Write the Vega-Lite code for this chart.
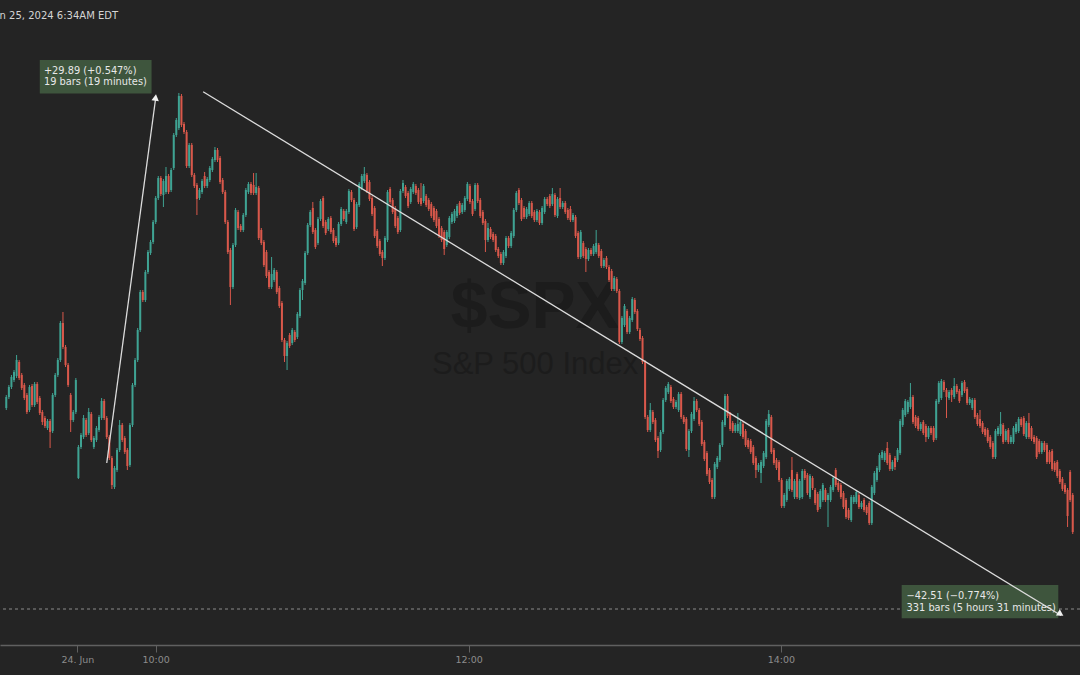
{
"$schema":"https://vega.github.io/schema/vega-lite/v6.json",
"width":1080,"height":645,
"autosize":{"type":"none"},
"padding":{"left":0,"top":0,"right":0,"bottom":30},
"background":"#242424",
"config":{"view":{"stroke":null},"font":"DejaVu Sans",
 "axisX":{"labelExpr":"datum.value < 40 ? '24. Jun' : datum.value < 100 ? '10:00' : datum.value < 250 ? '12:00' : '14:00'","title":null,"grid":false,"domainColor":"#606060","domainWidth":1.5,"tickColor":"#606060","tickSize":7,"labelColor":"#8c8c8c","labelFontSize":9.5,"labelFont":"DejaVu Sans","labelPadding":2,"labelFlush":false,"labelOverlap":false}},
"datasets":{"bars":[
{"i":0,"o":5465.36,"h":5466.4,"l":5465.2,"c":5466.24},
{"i":1,"o":5466.24,"h":5467.2,"l":5466.08,"c":5467.04},
{"i":2,"o":5467.04,"h":5468.0,"l":5466.88,"c":5467.84},
{"i":3,"o":5467.6,"h":5468.4,"l":5467.44,"c":5468.24},
{"i":4,"o":5467.92,"h":5469.6,"l":5467.76,"c":5469.2},
{"i":5,"o":5469.04,"h":5469.2,"l":5467.6,"c":5467.76},
{"i":6,"o":5468.0,"h":5468.16,"l":5466.8,"c":5466.96},
{"i":7,"o":5467.2,"h":5467.36,"l":5466.0,"c":5466.16},
{"i":8,"o":5466.4,"h":5466.56,"l":5464.88,"c":5465.04},
{"i":9,"o":5465.2,"h":5467.2,"l":5465.04,"c":5467.04},
{"i":10,"o":5467.12,"h":5467.28,"l":5465.44,"c":5465.6},
{"i":11,"o":5465.6,"h":5467.44,"l":5465.44,"c":5467.28},
{"i":12,"o":5467.28,"h":5467.44,"l":5465.68,"c":5465.84},
{"i":13,"o":5466.16,"h":5466.32,"l":5464.8,"c":5464.96},
{"i":14,"o":5465.04,"h":5465.2,"l":5464.0,"c":5464.24},
{"i":15,"o":5464.56,"h":5464.72,"l":5463.76,"c":5463.92},
{"i":16,"o":5463.76,"h":5464.48,"l":5463.6,"c":5464.32},
{"i":17,"o":5464.32,"h":5464.48,"l":5462.16,"c":5463.44},
{"i":18,"o":5463.52,"h":5466.56,"l":5463.36,"c":5466.4},
{"i":19,"o":5466.4,"h":5468.16,"l":5466.24,"c":5468.0},
{"i":20,"o":5468.0,"h":5469.36,"l":5467.84,"c":5469.2},
{"i":21,"o":5469.2,"h":5472.32,"l":5469.04,"c":5472.16},
{"i":22,"o":5472.16,"h":5473.04,"l":5470.08,"c":5470.24},
{"i":23,"o":5470.24,"h":5470.4,"l":5468.64,"c":5468.8},
{"i":24,"o":5468.8,"h":5468.96,"l":5467.04,"c":5467.2},
{"i":25,"o":5466.4,"h":5466.56,"l":5463.44,"c":5464.4},
{"i":26,"o":5464.4,"h":5465.2,"l":5464.24,"c":5465.04},
{"i":27,"o":5465.04,"h":5467.76,"l":5464.88,"c":5467.6},
{"i":28,"o":5459.76,"h":5462.4,"l":5459.68,"c":5462.24},
{"i":29,"o":5462.24,"h":5463.36,"l":5462.08,"c":5463.2},
{"i":30,"o":5463.04,"h":5464.8,"l":5462.88,"c":5464.56},
{"i":31,"o":5464.4,"h":5464.56,"l":5463.04,"c":5463.2},
{"i":32,"o":5463.36,"h":5465.36,"l":5463.2,"c":5465.04},
{"i":33,"o":5464.88,"h":5465.04,"l":5462.64,"c":5462.8},
{"i":34,"o":5462.24,"h":5463.12,"l":5462.08,"c":5462.96},
{"i":35,"o":5462.8,"h":5463.92,"l":5462.64,"c":5463.76},
{"i":36,"o":5463.6,"h":5464.8,"l":5463.44,"c":5464.64},
{"i":37,"o":5464.56,"h":5466.16,"l":5464.4,"c":5465.92},
{"i":38,"o":5465.92,"h":5466.08,"l":5464.4,"c":5464.56},
{"i":39,"o":5464.56,"h":5464.72,"l":5462.88,"c":5463.04},
{"i":40,"o":5463.04,"h":5463.2,"l":5461.2,"c":5461.36},
{"i":41,"o":5461.36,"h":5461.52,"l":5458.88,"c":5459.2},
{"i":42,"o":5459.04,"h":5460.72,"l":5458.88,"c":5460.56},
{"i":43,"o":5460.4,"h":5462.16,"l":5460.24,"c":5462.0},
{"i":44,"o":5462.0,"h":5464.4,"l":5461.84,"c":5464.0},
{"i":45,"o":5464.0,"h":5464.16,"l":5462.64,"c":5462.8},
{"i":46,"o":5462.96,"h":5463.12,"l":5461.68,"c":5461.84},
{"i":47,"o":5462.0,"h":5462.16,"l":5460.4,"c":5460.72},
{"i":48,"o":5460.8,"h":5464.16,"l":5460.64,"c":5464.0},
{"i":49,"o":5464.0,"h":5467.36,"l":5463.84,"c":5467.2},
{"i":50,"o":5467.2,"h":5469.36,"l":5467.04,"c":5469.2},
{"i":51,"o":5469.2,"h":5471.76,"l":5469.04,"c":5471.6},
{"i":52,"o":5471.6,"h":5474.8,"l":5471.44,"c":5474.64},
{"i":53,"o":5474.64,"h":5474.8,"l":5473.84,"c":5474.0},
{"i":54,"o":5474.0,"h":5476.4,"l":5473.84,"c":5476.24},
{"i":55,"o":5476.24,"h":5478.0,"l":5476.08,"c":5477.84},
{"i":56,"o":5477.76,"h":5478.8,"l":5477.6,"c":5478.64},
{"i":57,"o":5478.64,"h":5480.4,"l":5478.48,"c":5480.24},
{"i":58,"o":5480.24,"h":5482.32,"l":5480.08,"c":5482.16},
{"i":59,"o":5482.16,"h":5483.92,"l":5482.0,"c":5483.76},
{"i":60,"o":5483.76,"h":5483.92,"l":5482.32,"c":5482.48},
{"i":61,"o":5482.4,"h":5483.68,"l":5481.44,"c":5483.52},
{"i":62,"o":5482.64,"h":5484.64,"l":5482.48,"c":5483.92},
{"i":63,"o":5483.92,"h":5484.08,"l":5482.48,"c":5482.64},
{"i":64,"o":5482.8,"h":5484.56,"l":5482.64,"c":5484.4},
{"i":65,"o":5484.56,"h":5487.36,"l":5484.4,"c":5487.2},
{"i":66,"o":5487.2,"h":5488.56,"l":5487.04,"c":5488.4},
{"i":67,"o":5487.76,"h":5490.56,"l":5487.6,"c":5490.32},
{"i":68,"o":5490.32,"h":5490.48,"l":5487.84,"c":5488.0},
{"i":69,"o":5488.08,"h":5488.24,"l":5487.28,"c":5487.44},
{"i":70,"o":5487.44,"h":5487.6,"l":5484.56,"c":5484.72},
{"i":71,"o":5484.72,"h":5486.56,"l":5484.56,"c":5486.4},
{"i":72,"o":5486.4,"h":5486.56,"l":5483.84,"c":5484.0},
{"i":73,"o":5484.0,"h":5484.16,"l":5482.96,"c":5483.12},
{"i":74,"o":5483.2,"h":5483.36,"l":5480.8,"c":5482.08},
{"i":75,"o":5482.16,"h":5482.96,"l":5482.0,"c":5482.8},
{"i":76,"o":5482.64,"h":5483.68,"l":5482.48,"c":5483.52},
{"i":77,"o":5483.92,"h":5484.24,"l":5482.96,"c":5483.12},
{"i":78,"o":5483.12,"h":5483.84,"l":5482.96,"c":5483.68},
{"i":79,"o":5483.6,"h":5484.72,"l":5483.44,"c":5484.56},
{"i":80,"o":5484.4,"h":5485.44,"l":5484.24,"c":5485.28},
{"i":81,"o":5485.2,"h":5486.24,"l":5485.04,"c":5486.0},
{"i":82,"o":5486.0,"h":5486.16,"l":5485.04,"c":5485.2},
{"i":83,"o":5485.36,"h":5485.52,"l":5483.28,"c":5483.44},
{"i":84,"o":5483.6,"h":5483.76,"l":5482.48,"c":5482.64},
{"i":85,"o":5482.64,"h":5482.8,"l":5480.08,"c":5480.24},
{"i":86,"o":5480.24,"h":5480.4,"l":5477.68,"c":5477.84},
{"i":87,"o":5478.0,"h":5478.16,"l":5473.6,"c":5475.04},
{"i":88,"o":5475.04,"h":5478.56,"l":5474.88,"c":5478.4},
{"i":89,"o":5478.4,"h":5481.36,"l":5478.24,"c":5481.2},
{"i":90,"o":5481.04,"h":5481.2,"l":5479.6,"c":5479.76},
{"i":91,"o":5479.92,"h":5480.08,"l":5479.44,"c":5479.6},
{"i":92,"o":5479.6,"h":5480.96,"l":5479.44,"c":5480.8},
{"i":93,"o":5480.8,"h":5482.96,"l":5480.64,"c":5482.8},
{"i":94,"o":5482.64,"h":5483.44,"l":5482.48,"c":5483.28},
{"i":95,"o":5483.28,"h":5483.44,"l":5482.4,"c":5482.56},
{"i":96,"o":5483.2,"h":5484.16,"l":5482.4,"c":5482.56},
{"i":97,"o":5482.56,"h":5484.16,"l":5482.4,"c":5483.04},
{"i":98,"o":5482.96,"h":5483.12,"l":5478.8,"c":5478.96},
{"i":99,"o":5479.6,"h":5479.76,"l":5478.4,"c":5478.56},
{"i":100,"o":5478.64,"h":5478.8,"l":5476.64,"c":5476.8},
{"i":101,"o":5477.84,"h":5478.0,"l":5475.76,"c":5475.92},
{"i":102,"o":5476.24,"h":5476.4,"l":5474.88,"c":5475.04},
{"i":103,"o":5475.04,"h":5477.44,"l":5474.88,"c":5476.08},
{"i":104,"o":5475.6,"h":5476.56,"l":5475.44,"c":5476.4},
{"i":105,"o":5476.24,"h":5476.4,"l":5474.48,"c":5474.64},
{"i":106,"o":5474.96,"h":5475.12,"l":5473.36,"c":5473.52},
{"i":107,"o":5473.76,"h":5473.92,"l":5470.64,"c":5470.8},
{"i":108,"o":5470.8,"h":5470.96,"l":5469.04,"c":5469.52},
{"i":109,"o":5469.52,"h":5470.72,"l":5468.4,"c":5470.56},
{"i":110,"o":5471.2,"h":5471.36,"l":5470.16,"c":5470.32},
{"i":111,"o":5470.56,"h":5471.76,"l":5470.4,"c":5471.6},
{"i":112,"o":5471.44,"h":5471.6,"l":5470.64,"c":5470.8},
{"i":113,"o":5471.04,"h":5473.04,"l":5470.88,"c":5472.88},
{"i":114,"o":5472.72,"h":5474.96,"l":5472.56,"c":5474.8},
{"i":115,"o":5474.8,"h":5475.68,"l":5474.0,"c":5475.52},
{"i":116,"o":5475.36,"h":5477.92,"l":5475.2,"c":5477.76},
{"i":117,"o":5477.76,"h":5480.16,"l":5477.6,"c":5480.0},
{"i":118,"o":5480.0,"h":5481.2,"l":5479.84,"c":5481.04},
{"i":119,"o":5481.36,"h":5481.84,"l":5479.28,"c":5479.44},
{"i":120,"o":5479.6,"h":5479.76,"l":5478.08,"c":5478.24},
{"i":121,"o":5478.56,"h":5480.64,"l":5478.4,"c":5480.48},
{"i":122,"o":5480.48,"h":5482.08,"l":5480.32,"c":5481.92},
{"i":123,"o":5482.16,"h":5482.32,"l":5479.76,"c":5479.92},
{"i":124,"o":5480.24,"h":5480.4,"l":5479.2,"c":5479.36},
{"i":125,"o":5479.68,"h":5480.64,"l":5479.52,"c":5480.48},
{"i":126,"o":5480.56,"h":5480.72,"l":5479.28,"c":5479.44},
{"i":127,"o":5479.6,"h":5479.76,"l":5478.56,"c":5478.72},
{"i":128,"o":5478.96,"h":5479.12,"l":5478.24,"c":5478.4},
{"i":129,"o":5478.56,"h":5480.24,"l":5478.4,"c":5480.08},
{"i":130,"o":5480.08,"h":5481.44,"l":5479.92,"c":5481.28},
{"i":131,"o":5481.12,"h":5481.28,"l":5480.32,"c":5480.48},
{"i":132,"o":5480.24,"h":5481.28,"l":5480.08,"c":5481.12},
{"i":133,"o":5481.04,"h":5482.88,"l":5480.88,"c":5482.72},
{"i":134,"o":5482.64,"h":5482.8,"l":5481.84,"c":5482.0},
{"i":135,"o":5482.0,"h":5482.16,"l":5479.52,"c":5479.68},
{"i":136,"o":5479.84,"h":5481.84,"l":5479.68,"c":5481.68},
{"i":137,"o":5481.6,"h":5483.44,"l":5481.44,"c":5483.28},
{"i":138,"o":5482.96,"h":5484.08,"l":5482.8,"c":5483.92},
{"i":139,"o":5483.52,"h":5484.64,"l":5483.36,"c":5484.08},
{"i":140,"o":5484.0,"h":5484.16,"l":5482.56,"c":5482.72},
{"i":141,"o":5483.44,"h":5483.6,"l":5481.92,"c":5482.08},
{"i":142,"o":5482.16,"h":5482.32,"l":5480.72,"c":5480.88},
{"i":143,"o":5481.36,"h":5481.52,"l":5478.96,"c":5479.12},
{"i":144,"o":5479.52,"h":5479.68,"l":5478.16,"c":5478.32},
{"i":145,"o":5478.72,"h":5478.88,"l":5477.52,"c":5477.68},
{"i":146,"o":5477.84,"h":5478.0,"l":5476.72,"c":5477.36},
{"i":147,"o":5477.36,"h":5479.12,"l":5477.2,"c":5478.96},
{"i":148,"o":5478.8,"h":5482.8,"l":5478.64,"c":5482.64},
{"i":149,"o":5482.88,"h":5483.04,"l":5481.68,"c":5481.84},
{"i":150,"o":5482.0,"h":5482.16,"l":5480.88,"c":5481.04},
{"i":151,"o":5481.36,"h":5481.52,"l":5479.76,"c":5479.92},
{"i":152,"o":5480.56,"h":5480.72,"l":5479.28,"c":5479.44},
{"i":153,"o":5479.6,"h":5482.88,"l":5479.44,"c":5482.72},
{"i":154,"o":5482.72,"h":5483.6,"l":5482.56,"c":5483.36},
{"i":155,"o":5483.04,"h":5483.2,"l":5482.16,"c":5482.32},
{"i":156,"o":5482.56,"h":5482.72,"l":5481.36,"c":5481.52},
{"i":157,"o":5481.84,"h":5483.04,"l":5481.68,"c":5482.88},
{"i":158,"o":5482.64,"h":5483.44,"l":5482.48,"c":5483.28},
{"i":159,"o":5483.12,"h":5483.28,"l":5482.4,"c":5482.56},
{"i":160,"o":5482.8,"h":5482.96,"l":5481.68,"c":5481.84},
{"i":161,"o":5482.16,"h":5483.36,"l":5481.52,"c":5481.68},
{"i":162,"o":5481.92,"h":5483.28,"l":5481.76,"c":5483.12},
{"i":163,"o":5482.32,"h":5482.48,"l":5481.44,"c":5481.6},
{"i":164,"o":5482.0,"h":5482.16,"l":5481.12,"c":5481.28},
{"i":165,"o":5481.68,"h":5481.84,"l":5480.56,"c":5480.72},
{"i":166,"o":5481.36,"h":5481.52,"l":5480.24,"c":5480.4},
{"i":167,"o":5481.12,"h":5481.28,"l":5479.76,"c":5479.92},
{"i":168,"o":5480.48,"h":5480.64,"l":5478.96,"c":5479.12},
{"i":169,"o":5479.76,"h":5479.92,"l":5478.64,"c":5478.8},
{"i":170,"o":5479.44,"h":5479.6,"l":5477.6,"c":5478.08},
{"i":171,"o":5478.4,"h":5479.6,"l":5478.24,"c":5479.44},
{"i":172,"o":5479.04,"h":5480.72,"l":5478.88,"c":5480.56},
{"i":173,"o":5480.24,"h":5481.04,"l":5480.08,"c":5480.88},
{"i":174,"o":5480.32,"h":5481.28,"l":5480.16,"c":5481.12},
{"i":175,"o":5480.72,"h":5481.68,"l":5480.56,"c":5481.52},
{"i":176,"o":5481.76,"h":5481.92,"l":5480.8,"c":5480.96},
{"i":177,"o":5481.04,"h":5481.76,"l":5480.88,"c":5481.6},
{"i":178,"o":5481.2,"h":5482.32,"l":5481.04,"c":5482.16},
{"i":179,"o":5482.08,"h":5483.44,"l":5481.92,"c":5483.28},
{"i":180,"o":5483.12,"h":5483.28,"l":5481.68,"c":5481.84},
{"i":181,"o":5481.92,"h":5482.08,"l":5480.72,"c":5480.88},
{"i":182,"o":5481.28,"h":5483.36,"l":5481.12,"c":5483.2},
{"i":183,"o":5483.2,"h":5483.36,"l":5481.76,"c":5481.92},
{"i":184,"o":5482.0,"h":5482.16,"l":5480.56,"c":5480.72},
{"i":185,"o":5481.04,"h":5481.2,"l":5480.0,"c":5480.16},
{"i":186,"o":5480.32,"h":5480.48,"l":5477.84,"c":5478.8},
{"i":187,"o":5478.8,"h":5480.16,"l":5478.64,"c":5479.76},
{"i":188,"o":5479.68,"h":5479.84,"l":5478.88,"c":5479.04},
{"i":189,"o":5479.28,"h":5479.44,"l":5478.64,"c":5478.8},
{"i":190,"o":5479.12,"h":5479.28,"l":5477.84,"c":5478.0},
{"i":191,"o":5478.08,"h":5478.24,"l":5477.36,"c":5477.52},
{"i":192,"o":5477.68,"h":5477.84,"l":5476.8,"c":5476.96},
{"i":193,"o":5476.96,"h":5478.0,"l":5476.8,"c":5477.84},
{"i":194,"o":5477.52,"h":5479.12,"l":5477.36,"c":5478.96},
{"i":195,"o":5478.96,"h":5479.12,"l":5478.16,"c":5478.32},
{"i":196,"o":5478.32,"h":5479.52,"l":5478.16,"c":5479.36},
{"i":197,"o":5479.12,"h":5481.36,"l":5478.96,"c":5481.2},
{"i":198,"o":5481.2,"h":5482.72,"l":5481.04,"c":5482.56},
{"i":199,"o":5482.8,"h":5482.96,"l":5481.6,"c":5481.76},
{"i":200,"o":5482.0,"h":5482.16,"l":5480.32,"c":5480.48},
{"i":201,"o":5481.36,"h":5481.52,"l":5480.48,"c":5480.64},
{"i":202,"o":5480.64,"h":5481.44,"l":5480.48,"c":5481.28},
{"i":203,"o":5480.88,"h":5481.92,"l":5480.72,"c":5481.76},
{"i":204,"o":5481.76,"h":5481.92,"l":5480.56,"c":5480.72},
{"i":205,"o":5481.04,"h":5481.2,"l":5480.24,"c":5480.4},
{"i":206,"o":5480.4,"h":5481.28,"l":5480.24,"c":5481.12},
{"i":207,"o":5481.04,"h":5481.2,"l":5480.0,"c":5480.16},
{"i":208,"o":5480.16,"h":5481.52,"l":5480.0,"c":5481.36},
{"i":209,"o":5481.04,"h":5482.24,"l":5480.88,"c":5482.08},
{"i":210,"o":5482.08,"h":5482.24,"l":5481.52,"c":5481.68},
{"i":211,"o":5482.32,"h":5482.48,"l":5481.36,"c":5481.52},
{"i":212,"o":5481.68,"h":5482.96,"l":5481.52,"c":5482.48},
{"i":213,"o":5482.4,"h":5482.56,"l":5480.64,"c":5480.8},
{"i":214,"o":5480.72,"h":5482.24,"l":5480.56,"c":5482.08},
{"i":215,"o":5482.16,"h":5482.96,"l":5481.28,"c":5481.44},
{"i":216,"o":5481.44,"h":5481.92,"l":5481.28,"c":5481.76},
{"i":217,"o":5481.76,"h":5481.92,"l":5480.88,"c":5481.04},
{"i":218,"o":5481.2,"h":5481.36,"l":5480.4,"c":5480.56},
{"i":219,"o":5481.28,"h":5481.52,"l":5480.24,"c":5480.4},
{"i":220,"o":5480.4,"h":5480.96,"l":5480.24,"c":5480.8},
{"i":221,"o":5480.64,"h":5480.8,"l":5478.96,"c":5479.12},
{"i":222,"o":5479.36,"h":5479.52,"l":5477.28,"c":5477.44},
{"i":223,"o":5477.44,"h":5479.6,"l":5477.28,"c":5479.44},
{"i":224,"o":5478.56,"h":5478.72,"l":5477.36,"c":5477.52},
{"i":225,"o":5478.08,"h":5478.24,"l":5476.24,"c":5477.28},
{"i":226,"o":5477.28,"h":5478.16,"l":5477.12,"c":5478.0},
{"i":227,"o":5478.0,"h":5478.16,"l":5477.52,"c":5477.68},
{"i":228,"o":5477.68,"h":5478.48,"l":5477.52,"c":5478.32},
{"i":229,"o":5477.84,"h":5479.6,"l":5477.68,"c":5478.56},
{"i":230,"o":5478.4,"h":5478.56,"l":5477.36,"c":5477.52},
{"i":231,"o":5477.92,"h":5478.08,"l":5476.56,"c":5476.72},
{"i":232,"o":5476.72,"h":5477.36,"l":5476.56,"c":5477.2},
{"i":233,"o":5477.36,"h":5477.52,"l":5476.48,"c":5476.64},
{"i":234,"o":5476.64,"h":5476.8,"l":5475.44,"c":5475.6},
{"i":235,"o":5476.32,"h":5476.48,"l":5474.72,"c":5474.88},
{"i":236,"o":5474.88,"h":5475.92,"l":5474.72,"c":5475.76},
{"i":237,"o":5475.68,"h":5475.84,"l":5474.56,"c":5474.72},
{"i":238,"o":5474.72,"h":5474.88,"l":5470.48,"c":5470.64},
{"i":239,"o":5470.64,"h":5472.72,"l":5470.48,"c":5472.56},
{"i":240,"o":5472.0,"h":5473.68,"l":5471.84,"c":5473.52},
{"i":241,"o":5473.12,"h":5473.28,"l":5471.28,"c":5471.44},
{"i":242,"o":5471.44,"h":5472.72,"l":5471.28,"c":5472.56},
{"i":243,"o":5472.4,"h":5474.24,"l":5472.24,"c":5474.08},
{"i":244,"o":5474.0,"h":5474.16,"l":5472.88,"c":5473.04},
{"i":245,"o":5473.12,"h":5473.28,"l":5471.52,"c":5471.68},
{"i":246,"o":5471.6,"h":5471.76,"l":5470.72,"c":5470.88},
{"i":247,"o":5470.96,"h":5471.12,"l":5468.88,"c":5469.04},
{"i":248,"o":5469.04,"h":5469.2,"l":5464.48,"c":5464.64},
{"i":249,"o":5464.64,"h":5464.8,"l":5463.44,"c":5463.6},
{"i":250,"o":5463.6,"h":5465.76,"l":5463.44,"c":5465.2},
{"i":251,"o":5465.04,"h":5465.2,"l":5464.08,"c":5464.24},
{"i":252,"o":5464.4,"h":5464.56,"l":5462.64,"c":5462.8},
{"i":253,"o":5462.96,"h":5463.12,"l":5461.36,"c":5461.92},
{"i":254,"o":5462.0,"h":5463.6,"l":5461.84,"c":5463.44},
{"i":255,"o":5463.44,"h":5466.16,"l":5463.28,"c":5466.0},
{"i":256,"o":5466.0,"h":5467.12,"l":5465.84,"c":5466.96},
{"i":257,"o":5466.64,"h":5467.44,"l":5466.48,"c":5467.28},
{"i":258,"o":5467.04,"h":5467.2,"l":5465.76,"c":5465.92},
{"i":259,"o":5466.08,"h":5466.24,"l":5465.28,"c":5465.44},
{"i":260,"o":5465.44,"h":5466.0,"l":5465.28,"c":5465.84},
{"i":261,"o":5465.2,"h":5466.64,"l":5465.04,"c":5466.48},
{"i":262,"o":5466.48,"h":5466.64,"l":5464.48,"c":5464.64},
{"i":263,"o":5464.64,"h":5464.8,"l":5464.08,"c":5464.24},
{"i":264,"o":5464.48,"h":5464.64,"l":5461.92,"c":5462.08},
{"i":265,"o":5462.0,"h":5463.68,"l":5461.44,"c":5463.52},
{"i":266,"o":5463.52,"h":5465.04,"l":5463.36,"c":5464.88},
{"i":267,"o":5464.48,"h":5466.24,"l":5464.32,"c":5465.92},
{"i":268,"o":5465.92,"h":5466.08,"l":5465.04,"c":5465.2},
{"i":269,"o":5465.2,"h":5465.36,"l":5463.92,"c":5464.08},
{"i":270,"o":5464.24,"h":5464.4,"l":5462.32,"c":5462.48},
{"i":271,"o":5462.64,"h":5462.8,"l":5461.12,"c":5461.28},
{"i":272,"o":5461.76,"h":5461.92,"l":5459.92,"c":5460.08},
{"i":273,"o":5460.4,"h":5460.56,"l":5459.28,"c":5459.44},
{"i":274,"o":5459.6,"h":5459.76,"l":5458.08,"c":5458.24},
{"i":275,"o":5458.24,"h":5461.04,"l":5458.08,"c":5460.88},
{"i":276,"o":5460.64,"h":5461.52,"l":5460.48,"c":5461.36},
{"i":277,"o":5461.2,"h":5462.56,"l":5461.04,"c":5462.4},
{"i":278,"o":5462.4,"h":5464.4,"l":5462.24,"c":5464.24},
{"i":279,"o":5464.0,"h":5466.48,"l":5463.84,"c":5466.32},
{"i":280,"o":5466.32,"h":5466.48,"l":5464.56,"c":5464.72},
{"i":281,"o":5464.88,"h":5465.04,"l":5463.52,"c":5463.68},
{"i":282,"o":5464.16,"h":5464.32,"l":5463.36,"c":5463.52},
{"i":283,"o":5463.52,"h":5464.16,"l":5463.36,"c":5464.0},
{"i":284,"o":5463.52,"h":5464.96,"l":5463.36,"c":5464.08},
{"i":285,"o":5463.28,"h":5464.4,"l":5463.12,"c":5464.24},
{"i":286,"o":5464.08,"h":5464.24,"l":5462.88,"c":5463.04},
{"i":287,"o":5463.52,"h":5463.68,"l":5462.24,"c":5462.4},
{"i":288,"o":5462.8,"h":5462.96,"l":5462.08,"c":5462.24},
{"i":289,"o":5462.72,"h":5462.88,"l":5461.68,"c":5461.84},
{"i":290,"o":5462.24,"h":5462.4,"l":5460.8,"c":5460.96},
{"i":291,"o":5461.36,"h":5461.52,"l":5459.76,"c":5460.4},
{"i":292,"o":5460.4,"h":5460.96,"l":5460.24,"c":5460.8},
{"i":293,"o":5460.16,"h":5461.2,"l":5459.36,"c":5461.04},
{"i":294,"o":5460.72,"h":5461.92,"l":5460.56,"c":5461.76},
{"i":295,"o":5461.44,"h":5464.48,"l":5461.28,"c":5464.32},
{"i":296,"o":5464.0,"h":5465.2,"l":5463.84,"c":5464.88},
{"i":297,"o":5464.64,"h":5464.8,"l":5461.68,"c":5461.84},
{"i":298,"o":5462.0,"h":5462.16,"l":5460.8,"c":5460.96},
{"i":299,"o":5461.2,"h":5461.36,"l":5460.4,"c":5460.56},
{"i":300,"o":5461.04,"h":5461.2,"l":5459.44,"c":5459.6},
{"i":301,"o":5459.6,"h":5459.76,"l":5457.36,"c":5457.52},
{"i":302,"o":5457.52,"h":5458.56,"l":5457.36,"c":5458.4},
{"i":303,"o":5458.0,"h":5459.68,"l":5457.84,"c":5459.52},
{"i":304,"o":5458.88,"h":5459.84,"l":5458.72,"c":5459.68},
{"i":305,"o":5460.4,"h":5461.44,"l":5458.64,"c":5458.8},
{"i":306,"o":5458.24,"h":5459.68,"l":5458.08,"c":5459.52},
{"i":307,"o":5460.08,"h":5460.24,"l":5458.08,"c":5458.24},
{"i":308,"o":5458.16,"h":5459.68,"l":5458.0,"c":5459.52},
{"i":309,"o":5458.24,"h":5460.48,"l":5458.08,"c":5460.32},
{"i":310,"o":5460.32,"h":5460.48,"l":5459.6,"c":5459.76},
{"i":311,"o":5460.0,"h":5460.16,"l":5458.4,"c":5458.56},
{"i":312,"o":5458.24,"h":5460.08,"l":5458.08,"c":5459.92},
{"i":313,"o":5459.76,"h":5459.92,"l":5458.8,"c":5458.96},
{"i":314,"o":5458.8,"h":5458.96,"l":5457.6,"c":5457.76},
{"i":315,"o":5458.48,"h":5458.64,"l":5457.04,"c":5457.2},
{"i":316,"o":5457.44,"h":5458.88,"l":5457.28,"c":5458.72},
{"i":317,"o":5458.0,"h":5459.36,"l":5457.84,"c":5459.2},
{"i":318,"o":5458.8,"h":5458.96,"l":5457.84,"c":5458.0},
{"i":319,"o":5458.0,"h":5458.56,"l":5455.84,"c":5458.4},
{"i":320,"o":5458.0,"h":5459.2,"l":5457.84,"c":5459.04},
{"i":321,"o":5458.8,"h":5459.92,"l":5458.64,"c":5459.76},
{"i":322,"o":5460.4,"h":5460.56,"l":5459.04,"c":5459.2},
{"i":323,"o":5459.36,"h":5459.52,"l":5458.64,"c":5458.8},
{"i":324,"o":5459.2,"h":5459.36,"l":5458.08,"c":5458.24},
{"i":325,"o":5458.56,"h":5458.72,"l":5457.28,"c":5457.44},
{"i":326,"o":5458.0,"h":5458.16,"l":5456.48,"c":5456.64},
{"i":327,"o":5457.2,"h":5457.36,"l":5456.4,"c":5456.56},
{"i":328,"o":5456.4,"h":5458.4,"l":5456.24,"c":5458.24},
{"i":329,"o":5457.84,"h":5458.4,"l":5457.68,"c":5458.24},
{"i":330,"o":5457.84,"h":5458.8,"l":5457.68,"c":5458.64},
{"i":331,"o":5458.4,"h":5458.56,"l":5457.28,"c":5457.44},
{"i":332,"o":5457.44,"h":5457.92,"l":5457.28,"c":5457.76},
{"i":333,"o":5458.0,"h":5458.16,"l":5457.04,"c":5457.2},
{"i":334,"o":5457.44,"h":5457.6,"l":5456.8,"c":5456.96},
{"i":335,"o":5457.76,"h":5457.92,"l":5456.0,"c":5456.16},
{"i":336,"o":5456.16,"h":5459.2,"l":5456.0,"c":5459.04},
{"i":337,"o":5458.56,"h":5460.32,"l":5458.4,"c":5460.16},
{"i":338,"o":5459.6,"h":5460.72,"l":5459.44,"c":5460.56},
{"i":339,"o":5460.4,"h":5461.76,"l":5460.24,"c":5461.6},
{"i":340,"o":5461.36,"h":5462.0,"l":5461.2,"c":5461.84},
{"i":341,"o":5461.2,"h":5461.92,"l":5461.04,"c":5461.76},
{"i":342,"o":5462.16,"h":5462.64,"l":5460.8,"c":5460.96},
{"i":343,"o":5461.6,"h":5461.76,"l":5460.32,"c":5460.48},
{"i":344,"o":5460.48,"h":5461.2,"l":5460.32,"c":5461.04},
{"i":345,"o":5461.36,"h":5461.52,"l":5460.4,"c":5460.64},
{"i":346,"o":5461.2,"h":5462.16,"l":5461.04,"c":5462.0},
{"i":347,"o":5461.76,"h":5464.48,"l":5461.6,"c":5464.32},
{"i":348,"o":5464.0,"h":5465.36,"l":5463.84,"c":5465.2},
{"i":349,"o":5464.8,"h":5466.08,"l":5464.64,"c":5465.92},
{"i":350,"o":5465.04,"h":5466.0,"l":5464.88,"c":5465.84},
{"i":351,"o":5465.44,"h":5467.36,"l":5465.28,"c":5466.24},
{"i":352,"o":5466.24,"h":5466.4,"l":5464.08,"c":5464.24},
{"i":353,"o":5464.64,"h":5464.8,"l":5463.76,"c":5463.92},
{"i":354,"o":5464.56,"h":5464.72,"l":5463.52,"c":5463.68},
{"i":355,"o":5463.68,"h":5464.24,"l":5463.52,"c":5464.08},
{"i":356,"o":5464.24,"h":5464.4,"l":5463.2,"c":5463.36},
{"i":357,"o":5463.92,"h":5464.08,"l":5462.64,"c":5463.04},
{"i":358,"o":5463.04,"h":5463.92,"l":5462.88,"c":5463.76},
{"i":359,"o":5463.76,"h":5463.92,"l":5463.2,"c":5463.36},
{"i":360,"o":5463.76,"h":5463.92,"l":5462.64,"c":5462.8},
{"i":361,"o":5462.96,"h":5466.08,"l":5462.8,"c":5465.92},
{"i":362,"o":5465.84,"h":5467.52,"l":5465.68,"c":5467.36},
{"i":363,"o":5466.16,"h":5467.68,"l":5466.0,"c":5467.52},
{"i":364,"o":5467.44,"h":5467.6,"l":5466.64,"c":5466.8},
{"i":365,"o":5466.8,"h":5466.96,"l":5464.56,"c":5466.24},
{"i":366,"o":5466.16,"h":5466.8,"l":5466.0,"c":5466.64},
{"i":367,"o":5466.8,"h":5466.96,"l":5465.84,"c":5466.4},
{"i":368,"o":5466.24,"h":5467.76,"l":5466.08,"c":5467.12},
{"i":369,"o":5467.12,"h":5467.28,"l":5466.48,"c":5466.64},
{"i":370,"o":5466.72,"h":5466.88,"l":5465.76,"c":5465.92},
{"i":371,"o":5466.4,"h":5467.52,"l":5466.24,"c":5467.36},
{"i":372,"o":5467.44,"h":5467.6,"l":5466.56,"c":5466.72},
{"i":373,"o":5466.88,"h":5467.04,"l":5465.6,"c":5465.76},
{"i":374,"o":5465.76,"h":5466.24,"l":5465.6,"c":5466.08},
{"i":375,"o":5465.36,"h":5466.16,"l":5465.2,"c":5466.0},
{"i":376,"o":5466.0,"h":5466.16,"l":5464.48,"c":5464.64},
{"i":377,"o":5464.8,"h":5464.96,"l":5463.92,"c":5464.08},
{"i":378,"o":5464.48,"h":5465.2,"l":5463.76,"c":5463.92},
{"i":379,"o":5464.16,"h":5464.32,"l":5463.28,"c":5463.44},
{"i":380,"o":5463.68,"h":5463.84,"l":5463.04,"c":5463.2},
{"i":381,"o":5463.6,"h":5463.76,"l":5462.56,"c":5462.72},
{"i":382,"o":5463.04,"h":5463.2,"l":5462.08,"c":5462.24},
{"i":383,"o":5462.56,"h":5462.72,"l":5461.28,"c":5461.44},
{"i":384,"o":5461.44,"h":5463.68,"l":5461.28,"c":5463.52},
{"i":385,"o":5463.28,"h":5463.92,"l":5463.12,"c":5463.76},
{"i":386,"o":5463.28,"h":5465.04,"l":5463.12,"c":5464.08},
{"i":387,"o":5464.0,"h":5464.16,"l":5462.48,"c":5462.64},
{"i":388,"o":5462.8,"h":5463.68,"l":5462.64,"c":5463.52},
{"i":389,"o":5463.6,"h":5463.76,"l":5462.48,"c":5462.64},
{"i":390,"o":5462.64,"h":5463.2,"l":5462.48,"c":5463.04},
{"i":391,"o":5462.64,"h":5463.92,"l":5462.48,"c":5463.76},
{"i":392,"o":5463.44,"h":5464.24,"l":5463.28,"c":5464.08},
{"i":393,"o":5463.52,"h":5464.64,"l":5463.36,"c":5464.48},
{"i":394,"o":5464.48,"h":5464.64,"l":5463.84,"c":5464.0},
{"i":395,"o":5464.56,"h":5464.72,"l":5463.12,"c":5463.28},
{"i":396,"o":5463.04,"h":5464.32,"l":5462.88,"c":5464.16},
{"i":397,"o":5464.16,"h":5464.96,"l":5462.88,"c":5463.04},
{"i":398,"o":5463.76,"h":5463.92,"l":5462.72,"c":5462.88},
{"i":399,"o":5463.04,"h":5463.2,"l":5462.48,"c":5462.64},
{"i":400,"o":5462.96,"h":5463.12,"l":5461.28,"c":5461.44},
{"i":401,"o":5462.72,"h":5462.88,"l":5461.68,"c":5461.84},
{"i":402,"o":5461.84,"h":5462.72,"l":5461.68,"c":5462.56},
{"i":403,"o":5462.56,"h":5462.72,"l":5461.84,"c":5462.0},
{"i":404,"o":5462.4,"h":5462.56,"l":5460.88,"c":5461.04},
{"i":405,"o":5461.84,"h":5462.0,"l":5460.88,"c":5461.04},
{"i":406,"o":5461.92,"h":5462.08,"l":5460.32,"c":5460.48},
{"i":407,"o":5460.96,"h":5461.12,"l":5460.24,"c":5460.4},
{"i":408,"o":5461.04,"h":5461.2,"l":5459.76,"c":5459.92},
{"i":409,"o":5460.32,"h":5460.48,"l":5459.28,"c":5459.44},
{"i":410,"o":5459.68,"h":5459.84,"l":5458.72,"c":5458.88},
{"i":411,"o":5459.2,"h":5459.36,"l":5458.48,"c":5458.64},
{"i":412,"o":5458.8,"h":5458.96,"l":5455.84,"c":5456.72},
{"i":413,"o":5460.24,"h":5460.4,"l":5457.84,"c":5458.0},
{"i":414,"o":5458.4,"h":5458.56,"l":5455.28,"c":5455.44}
]},
"layer":[
{"data":{"values":[{}]},
 "mark":{"type":"text","text":"$SPX","font":"Liberation Sans","fontSize":66,"fontWeight":"bold","color":"#1c1c1c","align":"center","baseline":"middle"},
 "encoding":{"x":{"datum":205.3,"type":"quantitative","scale":{"domain":[-0.5,414.885],"nice":false,"zero":false},"axis":{"values":[27.6,58,179.5,300.7]}},
             "y":{"datum":5473.4,"type":"quantitative","scale":{"domain":[5446.4,5498],"nice":false,"zero":false},"axis":null}}},
{"data":{"values":[{}]},
 "mark":{"type":"text","text":"S&P 500 Index","font":"Liberation Sans","fontSize":31,"color":"#1c1c1c","align":"center","baseline":"middle"},
 "encoding":{"x":{"datum":205.3,"type":"quantitative","scale":{"domain":[-0.5,414.885],"nice":false,"zero":false},"axis":{"values":[27.6,58,179.5,300.7]}},
             "y":{"datum":5468.8,"type":"quantitative","scale":{"domain":[5446.4,5498],"nice":false,"zero":false},"axis":null}}},
{"data":{"values":[{}]},
 "mark":{"type":"rule","color":"#8a8a8a","strokeWidth":1,"strokeDash":[3,3]},
 "encoding":{"y":{"datum":5449.28,"type":"quantitative","scale":{"domain":[5446.4,5498],"nice":false,"zero":false},"axis":null}}},
{"data":{"name":"bars"},
 "mark":{"type":"rule","strokeWidth":1},
 "encoding":{
   "x":{"field":"i","type":"quantitative","scale":{"domain":[-0.5,414.885],"nice":false,"zero":false},"axis":{"values":[27.6,58,179.5,300.7]}},
   "y":{"field":"l","type":"quantitative","scale":{"domain":[5446.4,5498],"nice":false,"zero":false},"axis":null},
   "y2":{"field":"h"},
   "color":{"condition":{"test":"datum.c >= datum.o","value":"#3fa393"},"value":"#d9584b"}}},
{"data":{"name":"bars"},
 "mark":{"type":"bar","width":2},
 "encoding":{
   "x":{"field":"i","type":"quantitative","scale":{"domain":[-0.5,414.885],"nice":false,"zero":false},"axis":{"values":[27.6,58,179.5,300.7]}},
   "y":{"field":"o","type":"quantitative","scale":{"domain":[5446.4,5498],"nice":false,"zero":false},"axis":null},
   "y2":{"field":"c"},
   "color":{"condition":{"test":"datum.c >= datum.o","value":"#3fa393"},"value":"#d9584b"}}},
{"data":{"values":[{}]},
 "mark":{"type":"rect","color":"#3e553d"},
 "encoding":{"x":{"datum":13.0,"type":"quantitative","scale":{"domain":[-0.5,414.885],"nice":false,"zero":false},"axis":{"values":[27.6,58,179.5,300.7]}},"x2":{"datum":56.4},
             "y":{"datum":5493.2,"type":"quantitative","scale":{"domain":[5446.4,5498],"nice":false,"zero":false},"axis":null},"y2":{"datum":5490.53}}},
{"data":{"values":[{}]},
 "mark":{"type":"rect","color":"#3e553d"},
 "encoding":{"x":{"datum":347.6,"type":"quantitative","scale":{"domain":[-0.5,414.885],"nice":false,"zero":false},"axis":{"values":[27.6,58,179.5,300.7]}},"x2":{"datum":408.4},
             "y":{"datum":5451.2,"type":"quantitative","scale":{"domain":[5446.4,5498],"nice":false,"zero":false},"axis":null},"y2":{"datum":5448.54}}},
{"data":{"values":[{}]},
 "mark":{"type":"text","text":"+29.89 (+0.547%)","font":"DejaVu Sans","fontSize":9.8,"color":"#e8e8e8","align":"left","baseline":"middle"},
 "encoding":{"x":{"datum":14.6,"type":"quantitative","scale":{"domain":[-0.5,414.885],"nice":false,"zero":false},"axis":{"values":[27.6,58,179.5,300.7]}},
             "y":{"datum":5492.34,"type":"quantitative","scale":{"domain":[5446.4,5498],"nice":false,"zero":false},"axis":null}}},
{"data":{"values":[{}]},
 "mark":{"type":"text","text":"19 bars (19 minutes)","font":"DejaVu Sans","fontSize":9.8,"color":"#e8e8e8","align":"left","baseline":"middle"},
 "encoding":{"x":{"datum":14.6,"type":"quantitative","scale":{"domain":[-0.5,414.885],"nice":false,"zero":false},"axis":{"values":[27.6,58,179.5,300.7]}},
             "y":{"datum":5491.42,"type":"quantitative","scale":{"domain":[5446.4,5498],"nice":false,"zero":false},"axis":null}}},
{"data":{"values":[{}]},
 "mark":{"type":"text","text":"−42.51 (−0.774%)","font":"DejaVu Sans","fontSize":9.8,"color":"#e8e8e8","align":"left","baseline":"middle"},
 "encoding":{"x":{"datum":349.5,"type":"quantitative","scale":{"domain":[-0.5,414.885],"nice":false,"zero":false},"axis":{"values":[27.6,58,179.5,300.7]}},
             "y":{"datum":5450.32,"type":"quantitative","scale":{"domain":[5446.4,5498],"nice":false,"zero":false},"axis":null}}},
{"data":{"values":[{}]},
 "mark":{"type":"text","text":"331 bars (5 hours 31 minutes)","font":"DejaVu Sans","fontSize":9.8,"color":"#e8e8e8","align":"left","baseline":"middle"},
 "encoding":{"x":{"datum":349.5,"type":"quantitative","scale":{"domain":[-0.5,414.885],"nice":false,"zero":false},"axis":{"values":[27.6,58,179.5,300.7]}},
             "y":{"datum":5449.34,"type":"quantitative","scale":{"domain":[5446.4,5498],"nice":false,"zero":false},"axis":null}}},
{"data":{"values":[{}]},
 "mark":{"type":"text","text":"Jun 25, 2024 6:34AM EDT","font":"DejaVu Sans","fontSize":10,"color":"#d4d4d4","align":"left","baseline":"middle"},
 "encoding":{"x":{"datum":-6.2,"type":"quantitative","scale":{"domain":[-0.5,414.885],"nice":false,"zero":false},"axis":{"values":[27.6,58,179.5,300.7]}},
             "y":{"datum":5496.72,"type":"quantitative","scale":{"domain":[5446.4,5498],"nice":false,"zero":false},"axis":null}}},
{"data":{"values":[{}]},
 "mark":{"type":"rule","color":"#dcdcdc","strokeWidth":1.3},
 "encoding":{"x":{"datum":39.0,"type":"quantitative","scale":{"domain":[-0.5,414.885],"nice":false,"zero":false},"axis":{"values":[27.6,58,179.5,300.7]}},"x2":{"datum":58.0},
             "y":{"datum":5460.96,"type":"quantitative","scale":{"domain":[5446.4,5498],"nice":false,"zero":false},"axis":null},"y2":{"datum":5490.16}}},
{"data":{"values":[{}]},
 "mark":{"type":"rule","color":"#dcdcdc","strokeWidth":1.3},
 "encoding":{"x":{"datum":76.42,"type":"quantitative","scale":{"domain":[-0.5,414.885],"nice":false,"zero":false},"axis":{"values":[27.6,58,179.5,300.7]}},"x2":{"datum":409.5},
             "y":{"datum":5490.66,"type":"quantitative","scale":{"domain":[5446.4,5498],"nice":false,"zero":false},"axis":null},"y2":{"datum":5448.76}}},
{"data":{"values":[{}]},
 "mark":{"type":"point","shape":"triangle-up","filled":true,"size":55,"angle":7.5,"color":"#f0f0f0","opacity":1},
 "encoding":{"x":{"datum":57.96,"type":"quantitative","scale":{"domain":[-0.5,414.885],"nice":false,"zero":false},"axis":{"values":[27.6,58,179.5,300.7]}},
             "y":{"datum":5490.2,"type":"quantitative","scale":{"domain":[5446.4,5498],"nice":false,"zero":false},"axis":null}}},
{"data":{"values":[{}]},
 "mark":{"type":"point","shape":"triangle-up","filled":true,"size":55,"angle":121,"color":"#f0f0f0","opacity":1},
 "encoding":{"x":{"datum":409.3,"type":"quantitative","scale":{"domain":[-0.5,414.885],"nice":false,"zero":false},"axis":{"values":[27.6,58,179.5,300.7]}},
             "y":{"datum":5448.88,"type":"quantitative","scale":{"domain":[5446.4,5498],"nice":false,"zero":false},"axis":null}}}
]
}
